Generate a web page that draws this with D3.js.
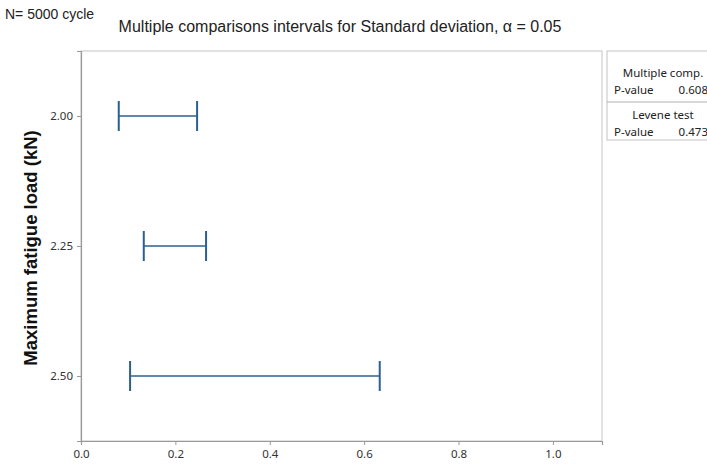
<!DOCTYPE html>
<html>
<head>
<meta charset="utf-8">
<script src="https://cdn.jsdelivr.net/npm/d3@7/dist/d3.min.js"></script>
<style>
  html, body { margin: 0; padding: 0; background: #fff; }
  svg { display: block; font-family: "Noto Sans", "Open Sans", sans-serif; }
</style>
</head>
<body>
<svg id="chart" width="707" height="466"></svg>
<script>
// Maximum fatigue load levels (kN) and their standard-deviation intervals
const loads = [2.00, 2.25, 2.50];
const lower = [0.080, 0.133, 0.104];
const upper = [0.246, 0.265, 0.633];
const xTicks = [0.0, 0.2, 0.4, 0.6, 0.8, 1.0];
const yTicks = [2.00, 2.25, 2.50];
const testNames = ["Multiple comp.", "Levene test"];
const pValues = [0.608, 0.473];

const svg = d3.select("#chart");
const plotL = 81, plotR = 602, plotT = 51, plotB = 441;

const x = d3.scaleLinear().domain([0, 1.104]).range([plotL, plotR]);
const y = d3.scaleLinear().domain([1.875, 2.625]).range([plotT, plotB]);

// plot frame
svg.append("rect")
  .attr("x", plotL).attr("y", plotT)
  .attr("width", plotR - plotL).attr("height", plotB - plotT)
  .attr("fill", "none").attr("stroke", "#c4c4c4").attr("stroke-width", 1);

// axes
const xAxis = svg.append("g").attr("transform", `translate(0,${plotB})`)
  .call(d3.axisBottom(x).tickValues(xTicks).tickFormat(d3.format(".1f")).tickSize(4).tickPadding(5));
const yAxis = svg.append("g").attr("transform", `translate(${plotL},0)`)
  .call(d3.axisLeft(y).tickValues(yTicks).tickFormat(d3.format(".2f")).tickSize(4).tickPadding(4));
[xAxis, yAxis].forEach(g => {
  g.select(".domain").attr("stroke", "#9a9a9a").attr("stroke-width", 1.2);
  g.selectAll(".tick line").attr("stroke", "#9a9a9a");
  g.selectAll(".tick text").attr("fill", "#333").attr("font-size", 11.5)
    .attr("font-family", "'Noto Sans', sans-serif");
});

// interval bars
const color = "#2c5f91";
const cap = 15;
const bars = svg.append("g").selectAll("g").data(loads).join("g");
bars.append("line")
  .attr("x1", (d, i) => x(lower[i])).attr("x2", (d, i) => x(upper[i]))
  .attr("y1", d => y(d)).attr("y2", d => y(d))
  .attr("stroke", color).attr("stroke-width", 1.5);
bars.append("line")
  .attr("x1", (d, i) => x(lower[i])).attr("x2", (d, i) => x(lower[i]))
  .attr("y1", d => y(d) - cap).attr("y2", d => y(d) + cap)
  .attr("stroke", color).attr("stroke-width", 2);
bars.append("line")
  .attr("x1", (d, i) => x(upper[i])).attr("x2", (d, i) => x(upper[i]))
  .attr("y1", d => y(d) - cap).attr("y2", d => y(d) + cap)
  .attr("stroke", color).attr("stroke-width", 2);

// titles
svg.append("text").attr("x", 5).attr("y", 19)
  .attr("font-size", 14).attr("fill", "#222")
  .attr("font-family", "'Liberation Sans', Arial, sans-serif")
  .text("N= 5000 cycle");
svg.append("text").attr("x", 340).attr("y", 32).attr("text-anchor", "middle")
  .attr("font-size", 16).attr("fill", "#222")
  .attr("font-family", "'Liberation Sans', Arial, sans-serif")
  .text("Multiple comparisons intervals for Standard deviation, \u03b1 = 0.05");
svg.append("text")
  .attr("transform", `translate(37,${(plotT + plotB) / 2 + 2}) rotate(-90)`)
  .attr("text-anchor", "middle").attr("font-size", 18.5).attr("font-weight", "bold")
  .attr("fill", "#111").attr("font-family", "'Liberation Sans', Arial, sans-serif")
  .text("Maximum fatigue load (kN)");

// test summary panel
const bx = 607, bw = 112;
const panel = svg.append("g");
panel.append("rect").attr("x", bx).attr("y", plotT).attr("width", bw).attr("height", 89)
  .attr("fill", "#fff").attr("stroke", "#c4c4c4");
panel.append("line").attr("x1", bx).attr("x2", bx + bw).attr("y1", 102).attr("y2", 102)
  .attr("stroke", "#b0b0b0");
testNames.forEach((name, i) => {
  const y0 = plotT + i * 42;
  panel.append("text").attr("x", bx + bw / 2).attr("y", y0 + 26)
    .attr("text-anchor", "middle").attr("font-size", 11.5).attr("fill", "#222")
    .text(name);
  panel.append("text").attr("x", 614).attr("y", y0 + 43)
    .attr("font-size", 11.5).attr("fill", "#222").text("P-value");
  panel.append("text").attr("x", 708).attr("y", y0 + 43).attr("text-anchor", "end")
    .attr("font-size", 11.5).attr("fill", "#222").text(d3.format(".3f")(pValues[i]));
});
</script>
</body>
</html>
